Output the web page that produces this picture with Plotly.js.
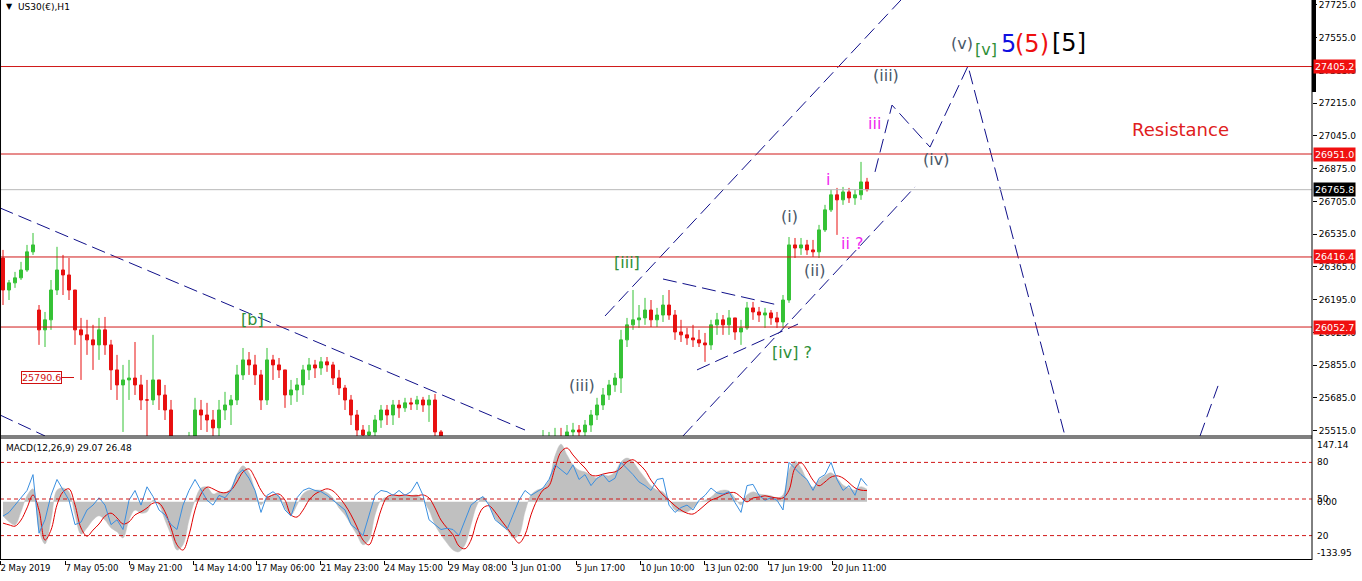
<!DOCTYPE html>
<html><head><meta charset="utf-8">
<script src="https://cdn.plot.ly/plotly-3.0.1.min.js"></script>
<style>html,body{margin:0;padding:0;background:#fff;}#chart{width:1362px;height:581px;}</style>
</head><body><div id="chart"></div>
<script>
// ---- price data (6-hour candles, US30(€)) ----
const openP = [26411,26245,26282,26308,26349,26443,26141,26038,26090,26245,
26349,26323,26245,26038,26012,25986,25960,26038,25960,25830,
25752,25778,25788,25752,25674,25674,25778,25700,25622,25389,
25311,25363,25441,25622,25596,25570,25529,25622,25648,25674,
25804,25882,25856,25804,25674,25882,25856,25830,25700,25726,
25752,25830,25856,25840,25872,25856,25788,25736,25674,25596,
25518,25492,25508,25570,25622,25596,25648,25633,25659,25653,
25674,25648,25674,25508,25363,25259,25155,25077,25025,24999,
25051,25025,24999,25077,25129,25181,25233,25285,25337,25389,
25415,25441,25466,25477,25466,25508,25518,25508,25544,25596,
25648,25700,25752,25788,25986,26064,26090,26100,26141,26090,
26115,26167,26115,26027,26012,25996,25986,25970,25960,26064,
26090,26064,26100,26027,26048,26152,26131,26115,26126,26100,
26079,26193,26479,26463,26479,26453,26443,26557,26661,26739,
26713,26754,26723,26739,26806];
const highP = [26453,26297,26339,26391,26479,26541,26167,26131,26297,26469,
26427,26411,26245,26100,26090,26064,26100,26105,25986,25908,
25856,25882,25975,25804,25778,26012,25778,25752,25674,25466,
25441,25508,25685,25674,25659,25622,25674,25716,25700,25856,
25944,25923,25908,25830,25944,25908,25892,25830,25778,25788,
25856,25892,25882,25897,25897,25872,25830,25752,25700,25622,
25544,25544,25596,25648,25648,25674,25674,25685,25685,25695,
25690,25700,25705,25518,25415,25311,25207,25155,25103,25129,
25155,25129,25155,25207,25259,25311,25337,25389,25441,25477,
25518,25508,25529,25529,25544,25555,25544,25570,25622,25685,
25736,25778,25814,26038,26100,26245,26167,26204,26193,26152,
26219,26245,26141,26090,26048,26064,26038,26022,26090,26126,
26115,26141,26100,26090,26183,26183,26157,26152,26141,26131,
26219,26520,26515,26515,26505,26505,26583,26687,26765,26775,
26780,26775,26765,26910,26827];
const lowP = [26167,26193,26256,26297,26339,26427,25960,25949,26038,26219,
26219,26193,25960,25778,25908,25830,25882,25908,25726,25674,
25508,25674,25700,25622,25487,25648,25622,25570,25311,25207,
25259,25311,25430,25518,25508,25487,25466,25570,25544,25648,
25778,25804,25752,25622,25648,25778,25788,25633,25648,25664,
25700,25778,25788,25804,25820,25752,25700,25622,25544,25482,
25441,25466,25482,25529,25544,25544,25581,25612,25622,25622,
25612,25560,25466,25311,25207,25103,24999,24947,24895,24921,
24947,24921,24947,25025,25077,25129,25155,25207,25259,25311,
25363,25373,25389,25415,25425,25466,25466,25482,25508,25570,
25622,25674,25716,25710,25949,26038,26048,26064,26053,26053,
26079,26090,25986,25975,25960,25949,25949,25872,25934,26012,
26012,26012,25986,25960,26038,26090,26079,26048,26064,26048,
26048,26178,26411,26427,26427,26417,26411,26546,26650,26531,
26687,26697,26687,26713,26756];
const closeP = [26245,26282,26308,26349,26443,26479,26038,26090,26245,26349,
26323,26245,26038,26012,25986,25960,26038,25960,25830,25752,
25778,25788,25752,25674,25674,25778,25700,25622,25389,25311,
25363,25441,25622,25596,25570,25529,25622,25648,25674,25804,
25882,25856,25804,25674,25882,25856,25830,25700,25726,25752,
25830,25856,25840,25872,25856,25788,25736,25674,25596,25518,
25492,25508,25570,25622,25596,25648,25633,25659,25653,25674,
25648,25674,25508,25363,25259,25155,25077,25025,24999,25051,
25025,24999,25077,25129,25181,25233,25285,25337,25389,25415,
25441,25466,25477,25466,25508,25518,25508,25544,25596,25648,
25700,25752,25788,25986,26064,26090,26100,26141,26090,26115,
26167,26115,26027,26012,25996,25986,25970,25960,26064,26090,
26064,26100,26027,26048,26152,26131,26115,26126,26100,26079,
26193,26479,26463,26479,26453,26443,26557,26661,26739,26713,
26754,26723,26739,26806,26766];

// ---- MACD(12,26,9) panel ----
const macdMain = [-32,-46,-53,-23,14,30,-65,-97,-42,27,
32,23,-30,-74,-60,-42,-32,-42,-60,-69,
-83,-42,-19,-26,-23,4,-7,-42,-76,-111,
-99,-42,4,32,34,18,23,21,32,64,
83,67,27,-7,11,16,14,-14,-30,-7,
18,27,27,27,21,9,-14,-30,-53,-76,
-99,-88,-30,4,11,14,16,14,14,16,
4,-19,-53,-76,-95,-111,-115,-99,-53,-7,
11,-7,-37,-53,-65,-83,-76,-23,16,27,
32,50,106,133,108,85,73,69,62,55,
62,60,69,92,101,92,73,55,37,27,
23,4,-19,-23,-23,-14,0,4,11,23,
27,25,9,-7,16,23,18,16,14,9,
16,73,94,78,50,34,50,60,67,55,
39,32,27,35,29];
const macdSignal = [-49,-53,-56,-42,-14,16,-19,-88,-65,-7,
23,30,-7,-60,-79,-65,-51,-33,-26,-37,
-51,-46,-30,-23,-14,-3,-3,-23,-60,-99,
-111,-76,-19,18,34,30,23,21,27,46,
69,76,55,27,11,16,18,4,-30,-35,
-19,4,18,25,30,25,11,-7,-30,-58,
-88,-99,-65,-19,11,16,14,16,14,14,
16,9,-14,-42,-60,-76,-102,-108,-88,-42,
-14,-9,-23,-42,-60,-79,-95,-76,-30,4,
27,37,78,115,124,108,92,78,62,60,
64,67,69,78,92,97,87,73,50,32,
16,4,-9,-19,-26,-28,-19,-7,4,9,
16,21,21,11,0,9,11,14,11,9,
9,27,78,90,73,50,37,46,57,60,
55,44,32,27,26];
const oscLine = [36,39,45,51,57,70,22,33,53,66,
57,49,29,31,41,45,51,45,29,33,
25,49,57,45,60,52,41,37,29,25,
45,57,66,57,49,45,53,51,57,70,
74,67,57,39,53,56,52,41,36,51,
57,59,57,56,53,49,45,41,29,25,
20,37,53,57,56,53,57,53,56,64,
53,33,29,25,26,25,20,33,45,49,
52,45,33,29,25,37,49,57,53,56,
59,66,78,74,70,78,66,70,61,67,
70,64,67,80,75,70,64,61,57,66,
67,45,39,43,45,41,49,53,59,55,
54,56,47,39,61,62,53,49,51,49,
41,80,75,70,66,57,67,70,80,66,
57,61,53,67,61];
const oscLevels = [80, 50, 20];

// ---- axis ticks ----
const timeTickPos = [0,65,129,193,256,320,384,448,512,576,640,704,768,832];
const timeTickText = ['2 May 2019','7 May 05:00','9 May 21:00','14 May 14:00','17 May 06:00','21 May 23:00','24 May 15:00','29 May 08:00','3 Jun 01:00','5 Jun 17:00','10 Jun 10:00','13 Jun 02:00','17 Jun 19:00','20 Jun 11:00'];
const priceTicks = [27725,27555,27385,27215,27045,26875,26705,26535,26365,26195,26025,25855,25685,25515];

// ---- levels & drawn lines (time index, price) ----
const resistanceLevels = [27405.2, 26951.0, 26416.4, 26052.7];
const lastPrice = 26765.8;
const leftLabelPrice = 25790.6;
const trendLines = [
  {x:[0,525], y:[26671,25518]},
  {x:[0,45], y:[25596,25487]},
  {x:[605,901], y:[26110,27751]},
  {x:[683,915], y:[25487,26780]},
  {x:[663,778], y:[26302,26167]},
  {x:[697,798], y:[25830,26068]},
  {x:[875,892,930,968,1065], y:[26858,27205,26987,27408,25487]},
  {x:[1200,1218], y:[25487,25747]}
];

const barX = closeP.map((_, i) => i * 6 + 3);
const PY_TOP = 27750.6, PY_BOT = 25486.9;
const H = 560; // plot height px
const mainDomain = [(H - 436) / H, 1];
const macdDomain = [0, (H - 438) / H];

const traces = [];
traces.push({
  type:'candlestick', x:barX, open:openP, high:highP, low:lowP, close:closeP,
  xaxis:'x', yaxis:'y', hoverinfo:'skip', whiskerwidth:0,
  increasing:{line:{color:'#35c235', width:1}, fillcolor:'#35c235'},
  decreasing:{line:{color:'#e81010', width:1}, fillcolor:'#e81010'}
});
trendLines.forEach(t => traces.push({
  type:'scatter', mode:'lines', x:t.x, y:t.y, xaxis:'x', yaxis:'y', hoverinfo:'skip',
  line:{color:'#10108a', width:1, dash:'14px,6px'}
}));
traces.push({type:'scatter', mode:'lines', x:[62,74], y:[leftLabelPrice,leftLabelPrice], xaxis:'x', yaxis:'y',
  hoverinfo:'skip', line:{color:'#d01010', width:1}});
// MACD
traces.push({type:'scatter', mode:'lines', x:barX, y:macdMain, xaxis:'x', yaxis:'y2', fill:'tozeroy',
  fillcolor:'#c0c0c0', line:{color:'#c0c0c0', width:0.5, shape:'spline'}, hoverinfo:'skip'});
traces.push({type:'scatter', mode:'lines', x:barX, y:macdSignal, xaxis:'x', yaxis:'y2',
  line:{color:'#e00000', width:1, shape:'spline'}, hoverinfo:'skip'});
traces.push({type:'scatter', mode:'lines', x:barX, y:oscLine, xaxis:'x', yaxis:'y3',
  line:{color:'#3a8fe0', width:1}, hoverinfo:'skip'});

const shapes = [];
resistanceLevels.forEach(v => shapes.push({type:'line', xref:'paper', yref:'y', x0:0, x1:1, y0:v, y1:v,
  line:{color:'#d01818', width:1}}));
shapes.push({type:'line', xref:'paper', yref:'y', x0:0, x1:1, y0:lastPrice, y1:lastPrice, line:{color:'#b8b8b8', width:1}});
oscLevels.forEach(v => shapes.push({type:'line', xref:'paper', yref:'y3', x0:0, x1:1, y0:v, y1:v,
  line:{color:'#d01818', width:1, dash:'4px,3px'}}));
// frame
const px2paperY = p => (H - p) / H;
[436, 438, 559.5].forEach(p => shapes.push({type:'line', xref:'paper', yref:'paper', x0:0, x1:1,
  y0:px2paperY(p), y1:px2paperY(p), line:{color:'#000', width:1}}));
shapes.push({type:'line', xref:'paper', yref:'paper', x0:0.0004, x1:0.0004, y0:0, y1:1, line:{color:'#000', width:1}});
shapes.push({type:'line', xref:'paper', yref:'paper', x0:1, x1:1, y0:0, y1:1, line:{color:'#000', width:1}});
shapes.push({type:'rect', xref:'paper', yref:'paper', x0:1, x1:1 + 4/1312, y0:px2paperY(92), y1:1,
  fillcolor:'#000', line:{width:0}});

const annotations = [];
const tag = (v, bg) => annotations.push({xref:'paper', yref:'y', x:1, y:v, xanchor:'left', yanchor:'middle',
  xshift:1, text:v.toFixed(1), showarrow:false, bgcolor:bg, borderpad:1,
  font:{family:'DejaVu Sans', size:9.5, color:'#fff'}});
resistanceLevels.forEach(v => tag(v, '#f01010'));
tag(lastPrice, '#000');
annotations.push({xref:'x', yref:'y', x:41, y:leftLabelPrice, text:leftLabelPrice.toFixed(1), showarrow:false,
  bgcolor:'#fff', bordercolor:'#d01010', borderwidth:1, borderpad:0,
  font:{family:'DejaVu Sans', size:9.5, color:'#d01010'}});
// MACD axis labels
const rlab = (yref, y, text, ya) => annotations.push({xref:'paper', yref, x:1, y, xanchor:'left', yanchor:ya,
  xshift:3, text, showarrow:false, font:{family:'DejaVu Sans', size:9, color:'#000'}});
rlab('y2', 147.14, '147.14', 'top');
rlab('y2', -133.95, '-133.95', 'bottom');
rlab('y2', 0, '0.00', 'middle');
oscLevels.forEach(v => rlab('y3', v, String(v), 'middle'));
// titles
annotations.push({xref:'paper', yref:'paper', x:4/1312, y:1 - 7/H, xanchor:'left', yanchor:'middle', text:'▼',
  showarrow:false, font:{family:'DejaVu Sans', size:8, color:'#000'}});
annotations.push({xref:'paper', yref:'paper', x:16/1312, y:1 - 7/H, xanchor:'left', yanchor:'middle', text:'US30(€),H1',
  showarrow:false, font:{family:'DejaVu Sans', size:9, color:'#000'}});
annotations.push({xref:'paper', yref:'paper', x:4/1312, y:px2paperY(448), xanchor:'left', yanchor:'middle',
  text:'MACD(12,26,9) 29.07 26.48', showarrow:false, font:{family:'DejaVu Sans', size:9, color:'#000'}});
// wave labels
const GREEN = '#2f8f38', SLATE = '#4a5868', MAG = '#f028f0';
const waves = [
  ['[b]', 252, 26094, GREEN, 16], ['[iii]', 627, 26390, GREEN, 16], ['(iii)', 582, 25747, SLATE, 16],
  ['[iv] ?', 792, 25923, GREEN, 16], ['(i)', 789, 26629, SLATE, 16], ['(ii)', 814, 26344, SLATE, 16],
  ['i', 828, 26821, MAG, 16], ['ii ?', 852, 26484, MAG, 16], ['iii', 874, 27112, MAG, 16],
  ['(iii)', 886, 27361, SLATE, 16], ['(iv)', 936, 26920, SLATE, 16], ['(v)', 962, 27527, SLATE, 16],
  ['[v]', 986, 27496, GREEN, 16], ['5', 1008, 27522, '#1010e0', 24], ['(5)', 1032, 27522, '#ee1010', 24],
  ['[5]', 1069, 27527, '#000', 24], ['Resistance', 1180, 27076, '#e02020', 18]
];
waves.forEach(([t, x, y, c, s]) => annotations.push({xref:'x', yref:'y', x, y, text:t, showarrow:false,
  xanchor:'center', yanchor:'middle', font:{family:'DejaVu Sans', size:s, color:c}}));

const layout = {
  width:1362, height:581, margin:{l:0, r:50, t:0, b:21}, paper_bgcolor:'#fff', plot_bgcolor:'#fff',
  showlegend:false, font:{family:'DejaVu Sans', size:9, color:'#000'},
  xaxis:{range:[0,1312], anchor:'y2', tickmode:'array', tickvals:timeTickPos, ticktext:timeTickText,
    ticks:'outside', ticklen:4, tickcolor:'#000', ticklabelposition:'outside right', tickangle:0,
    showgrid:false, zeroline:false, showline:false, rangeslider:{visible:false}, tickfont:{size:8.5},
    fixedrange:true},
  yaxis:{domain:mainDomain, range:[PY_BOT, PY_TOP], side:'right', tickmode:'array', tickvals:priceTicks,
    tickformat:'.1f', ticks:'outside', ticklen:4, tickcolor:'#000', showgrid:false, zeroline:false,
    showline:false, tickfont:{size:9}, fixedrange:true},
  yaxis2:{domain:macdDomain, range:[-133.95, 147.14], side:'right', showticklabels:false, ticks:'',
    showgrid:false, zeroline:false, showline:false, fixedrange:true},
  yaxis3:{overlaying:'y2', range:[0,100], visible:false, fixedrange:true},
  shapes, annotations
};
Plotly.newPlot('chart', traces, layout, {staticPlot:true, displayModeBar:false});
</script></body></html>
